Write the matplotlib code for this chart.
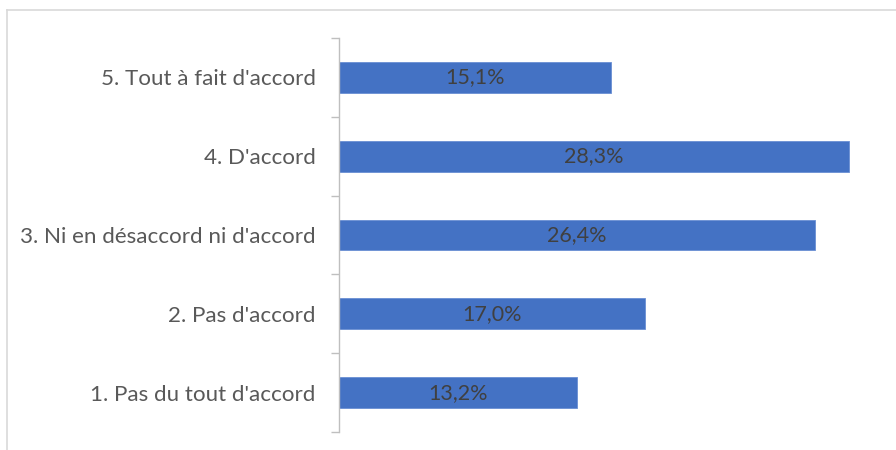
import matplotlib
matplotlib.use("Agg")
import matplotlib.pyplot as plt
from matplotlib.lines import Line2D

categories = ["1. Pas du tout d'accord", "2. Pas d'accord",
              "3. Ni en désaccord ni d'accord", "4. D'accord",
              "5. Tout à fait d'accord"]
values = [13.2, 17.0, 26.4, 28.3, 15.1]
labels = ["13,2%", "17,0%", "26,4%", "28,3%", "15,1%"]

W, H = 896, 450
fig = plt.figure(figsize=(W / 100, H / 100), dpi=100)
ax = fig.add_axes([338.5 / W, 1 - 432 / H, (880 - 338.5) / W, (432 - 38) / H])

font = "Lato"
pos = list(range(len(categories)))
ax.barh(pos, values, height=0.39, color="#4472C4", edgecolor="#6a8fd3", linewidth=0.6)
for p, v, t in zip(pos, values, labels):
    ax.text(v / 2, p, t, ha="center", va="center", fontsize=15.5, color="#404040", family=font)

ax.set_xlim(0, 30)
ax.set_ylim(-0.5, len(categories) - 0.5)
ax.set_yticks([i - 0.5 for i in range(len(categories) + 1)])
ax.set_yticklabels([])
ax.set_yticks(pos, minor=True)
ax.set_yticklabels(categories, minor=True, fontsize=16.1, color="#595959", family=font)
ax.tick_params(axis="y", which="major", length=6, color="#bfbfbf", width=1)
ax.tick_params(axis="y", which="minor", length=0, pad=16.5)
ax.set_xticks([])
for s in ["top", "right", "bottom"]:
    ax.spines[s].set_visible(False)
ax.spines["left"].set_color("#bfbfbf")
ax.spines["left"].set_linewidth(1)

# chart area frame (top and left edges visible)
fig.add_artist(Line2D([6.5 / W, 1], [1 - 9.5 / H, 1 - 9.5 / H], color="#d9d9d9", lw=1.2, transform=fig.transFigure))
fig.add_artist(Line2D([6.5 / W, 6.5 / W], [0, 1 - 9.5 / H], color="#d9d9d9", lw=1.2, transform=fig.transFigure))

fig.savefig("out.png", dpi=100)
